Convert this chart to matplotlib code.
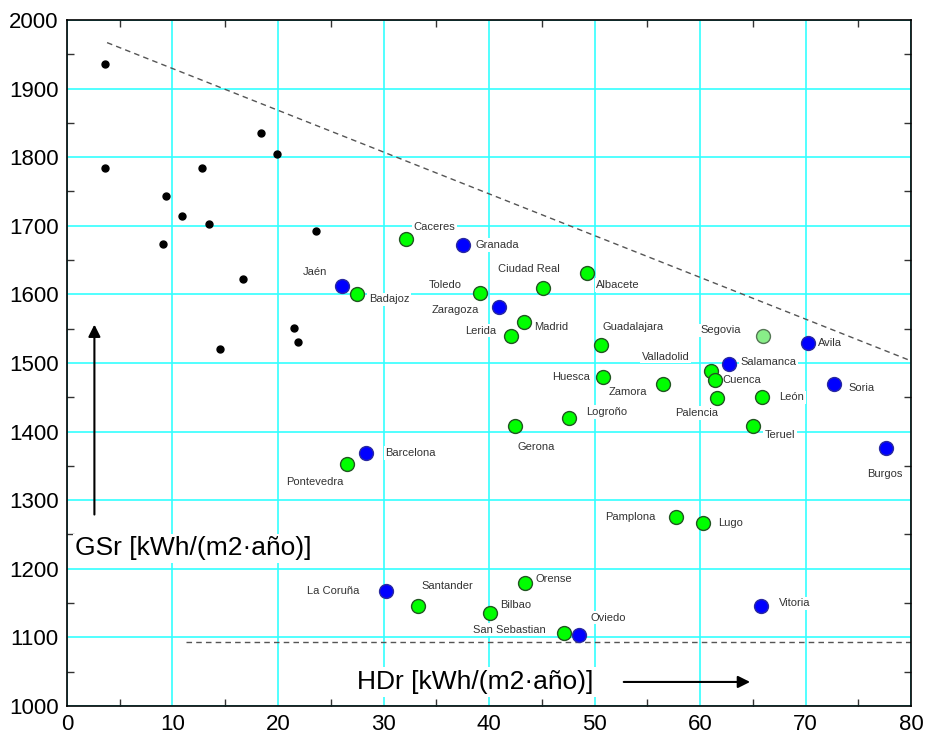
import matplotlib
matplotlib.use("Agg")
import matplotlib.pyplot as plt
from matplotlib.ticker import MultipleLocator

plt.rcParams['font.family'] = ['Liberation Sans', 'DejaVu Sans']

# black dots (no name)
blackX = [3.6, 3.6, 9.4, 10.9, 13.5, 9.1, 12.8, 16.7, 14.5, 18.4, 19.9, 23.6, 21.5, 21.9]
blackY = [1936, 1784, 1743, 1714, 1703, 1673, 1784, 1622, 1520, 1835, 1805, 1693, 1551, 1531]

# cities: green group
greenNames = ["Caceres", "Badajoz", "Toledo", "Madrid", "Lerida", "Ciudad Real", "Albacete",
              "Guadalajara", "Huesca", "Logroño", "Gerona", "Valladolid", "Cuenca", "Zamora",
              "Palencia", "León", "Teruel", "Pontevedra", "Pamplona", "Lugo", "Santander",
              "Bilbao", "Orense", "San Sebastian"]
greenX = [32.1, 27.5, 39.1, 43.3, 42.1, 45.1, 49.3, 50.6, 50.8, 47.6, 42.5, 61.0, 61.4, 56.5,
          61.6, 65.9, 65.0, 26.5, 57.7, 60.3, 33.3, 40.1, 43.4, 47.1]
greenY = [1681, 1600, 1602, 1560, 1540, 1610, 1631, 1526, 1480, 1420, 1408, 1489, 1475, 1470,
          1449, 1450, 1408, 1353, 1276, 1266, 1145, 1136, 1179, 1107]

# blue group
blueNames = ["Granada", "Jaén", "Zaragoza", "Salamanca", "Avila", "Soria", "Burgos",
             "Barcelona", "La Coruña", "Oviedo", "Vitoria"]
blueX = [37.5, 26.1, 40.9, 62.7, 70.2, 72.7, 77.6, 28.3, 30.2, 48.5, 65.8]
blueY = [1672, 1612, 1581, 1499, 1529, 1469, 1376, 1369, 1167, 1104, 1145]

# light green
lightNames = ["Segovia"]
lightX = [66.0]
lightY = [1539]

# dashed limit lines
diagX = [3.8, 80]
diagY = [1967, 1503]
flatX = [11.3, 80]
flatY = [1093, 1093]

# label offsets in pixels (dx, dy, ha)
offs = {
    "Caceres": (8, 12, 'left'), "Granada": (13, 0, 'left'), "Jaén": (-15, 14, 'right'),
    "Badajoz": (12, -5, 'left'), "Toledo": (-18, 8, 'right'), "Zaragoza": (-20, -3, 'right'),
    "Madrid": (10, -5, 'left'), "Lerida": (-15, 5, 'right'), "Ciudad Real": (-14, 19, 'center'),
    "Albacete": (9, -12, 'left'), "Guadalajara": (2, 18, 'left'), "Huesca": (-13, 0, 'right'),
    "Zamora": (-16, -8, 'right'), "Valladolid": (-21, 14, 'right'), "Cuenca": (8, 0, 'left'),
    "Salamanca": (12, 2, 'left'), "Segovia": (-22, 6, 'right'), "Avila": (10, 0, 'left'),
    "Soria": (14, -4, 'left'), "León": (17, 0, 'left'), "Palencia": (-20, -15, 'center'),
    "Teruel": (12, -9, 'left'), "Burgos": (-1, -26, 'center'), "Logroño": (17, 6, 'left'),
    "Gerona": (2, -21, 'left'), "Barcelona": (20, 0, 'left'), "Pontevedra": (-3, -18, 'right'),
    "Pamplona": (-20, 0, 'right'), "Lugo": (15, 0, 'left'), "La Coruña": (-26, 0, 'right'),
    "Santander": (3, 20, 'left'), "Orense": (11, 4, 'left'), "Bilbao": (10, 8, 'left'),
    "San Sebastian": (-18, 3, 'right'), "Oviedo": (12, 17, 'left'), "Vitoria": (18, 3, 'left'),
}

fig = plt.figure(figsize=(9.25, 7.4), dpi=100)
ax = fig.add_axes([0.0724, 0.046, 0.9126, 0.927])
ax.set_xlim(0, 80)
ax.set_ylim(1000, 2000)

ax.xaxis.set_major_locator(MultipleLocator(10))
ax.xaxis.set_minor_locator(MultipleLocator(5))
ax.yaxis.set_major_locator(MultipleLocator(100))
ax.yaxis.set_minor_locator(MultipleLocator(50))
ax.grid(True, which='major', color='#33ffff', lw=1.2, zorder=0)
ax.set_axisbelow(True)
ax.tick_params(which='both', direction='in', top=True, right=True, labelsize=16, pad=6)
ax.tick_params(which='major', length=0)
ax.tick_params(which='minor', length=5, width=1, color='#333333')
for s in ax.spines.values():
    s.set_linewidth(1.2)

ax.plot(diagX, diagY, ls=(0, (4, 3)), color='#555555', lw=1, zorder=2)
ax.plot(flatX, flatY, ls=(0, (4, 3)), color='#555555', lw=1, zorder=2)

ax.plot(blackX, blackY, 'o', color='black', ms=5, zorder=4)
ax.plot(greenX, greenY, 'o', mfc='#00ff00', mec='#225522', mew=1, ms=10, zorder=4)
ax.plot(blueX, blueY, 'o', mfc='#0000ff', mec='#2a2aa0', mew=1, ms=10, zorder=4)
ax.plot(lightX, lightY, 'o', mfc='#88ee88', mec='#557755', mew=1, ms=10, zorder=4)

for names, xs, ys in [(greenNames, greenX, greenY), (blueNames, blueX, blueY),
                      (lightNames, lightX, lightY)]:
    for n, x, y in zip(names, xs, ys):
        dx, dy, ha = offs[n]
        ax.annotate(n, (x, y), xytext=(dx * 0.72, dy * 0.72), textcoords='offset points',
                    ha=ha, va='center', fontsize=8, color='#333333', zorder=3,
                    bbox=dict(boxstyle='square,pad=0.15', fc='white', ec='none'))

ax.text(0.8, 1230, "GSr [kWh/(m2·año)]", fontsize=19, ha='left', va='center', zorder=3,
        bbox=dict(boxstyle='square,pad=0.1', fc='white', ec='none'))
ax.text(27.5, 1035, "HDr [kWh/(m2·año)]", fontsize=19, ha='left', va='center', zorder=3,
        bbox=dict(boxstyle='square,pad=0.1', fc='white', ec='none'))
ax.annotate("", xy=(2.6, 1560), xytext=(2.6, 1275),
            arrowprops=dict(arrowstyle='-|>', color='black', lw=1.5, mutation_scale=18))
ax.annotate("", xy=(65, 1035), xytext=(52.5, 1035),
            arrowprops=dict(arrowstyle='-|>', color='black', lw=1.5, mutation_scale=18))

fig.savefig("out.png", dpi=100)
